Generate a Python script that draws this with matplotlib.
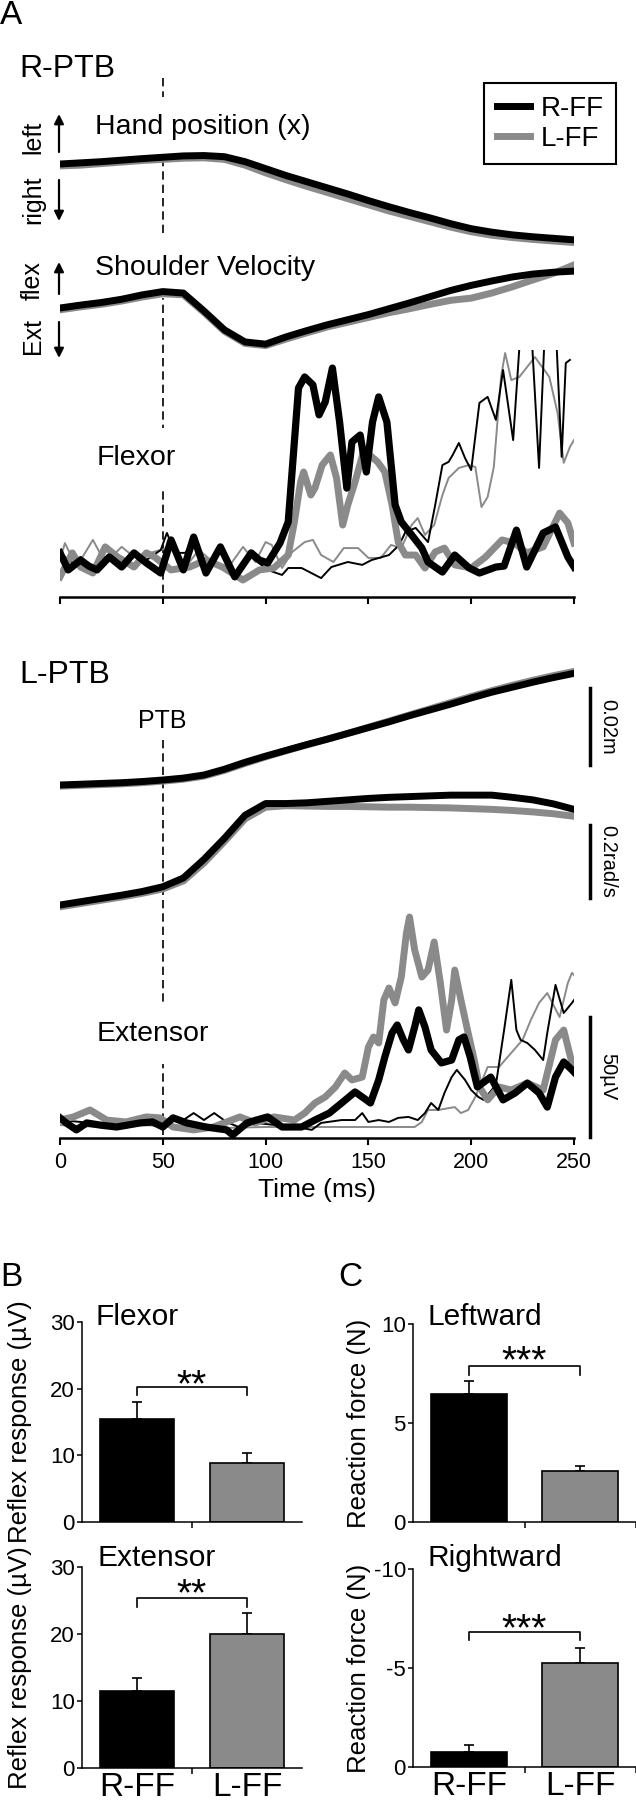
import matplotlib
matplotlib.use('Agg')
import matplotlib.pyplot as plt
from matplotlib.lines import Line2D
import numpy as np

plt.rcParams['font.family'] = ['Liberation Sans', 'DejaVu Sans']
plt.rcParams['axes.unicode_minus'] = False

W, H = 636, 1800
BLK = 'black'
GRY = '#8a8a8a'

# ---------------- data ----------------
# kinematics, sampled every 10 ms (0..250 ms)
t_kin = np.arange(0, 251, 10)

# hand position x (mm, relative, + = left), R-PTB
pos_r_rff = [0.0, 0.3, 0.6, 1.0, 1.4, 1.75, 2.1, 2.2, 1.9, 0.6, -1.2, -3.0, -4.6, -6.2, -7.8, -9.5,
             -11.1, -12.6, -14.0, -15.5, -16.8, -17.7, -18.4, -18.9, -19.3, -19.7]
pos_r_lff = [-0.5, -0.3, 0.1, 0.5, 0.9, 1.2, 1.5, 1.6, 1.2, -0.3, -2.3, -4.1, -5.8, -7.4, -9.0, -10.6,
             -12.2, -13.6, -15.0, -16.4, -17.6, -18.5, -19.1, -19.6, -20.0, -20.4]
# shoulder velocity (rad/s, relative, + = flexion), R-PTB
vel_r_rff = [0.000, 0.008, 0.015, 0.024, 0.036, 0.045, 0.041, -0.008, -0.060, -0.093, -0.099, -0.079,
             -0.062, -0.046, -0.032, -0.018, -0.002, 0.014, 0.031, 0.048, 0.062, 0.074, 0.085, 0.093,
             0.098, 0.101]
vel_r_lff = [-0.005, 0.003, 0.010, 0.019, 0.030, 0.039, 0.036, -0.012, -0.064, -0.097, -0.103, -0.085,
             -0.068, -0.052, -0.039, -0.026, -0.013, -0.002, 0.010, 0.021, 0.027, 0.041, 0.058, 0.077,
             0.095, 0.118]
# L-PTB
pos_l_rff = [0.0, 0.2, 0.4, 0.6, 0.9, 1.3, 1.8, 2.6, 4.1, 5.9, 7.5, 9.0, 10.5, 11.9, 13.4, 14.9,
             16.4, 18.0, 19.5, 21.0, 22.6, 24.1, 25.4, 26.7, 27.9, 29.0]
pos_l_lff = [-0.3, -0.1, 0.1, 0.3, 0.6, 1.0, 1.5, 2.3, 3.8, 5.6, 7.3, 8.9, 10.4, 11.9, 13.4, 15.0,
             16.6, 18.2, 19.8, 21.4, 23.0, 24.5, 25.9, 27.2, 28.4, 29.5]
vel_l_rff = [0.000, 0.009, 0.018, 0.027, 0.037, 0.050, 0.074, 0.125, 0.183, 0.246, 0.278, 0.278,
             0.280, 0.284, 0.288, 0.292, 0.295, 0.297, 0.299, 0.301, 0.301, 0.301, 0.295, 0.288,
             0.277, 0.262]
vel_l_lff = [-0.005, 0.004, 0.013, 0.022, 0.032, 0.044, 0.066, 0.115, 0.174, 0.236, 0.268, 0.272,
             0.271, 0.270, 0.270, 0.269, 0.268, 0.268, 0.267, 0.266, 0.264, 0.262, 0.259, 0.255,
             0.250, 0.243]

# flexor EMG (uV), R-PTB: thick = main, thin = second trace
flex_t_rff = [0, 4, 10, 14, 18, 24, 30, 36, 42, 49, 54, 60, 65, 71, 78, 85, 93, 97, 101, 107,
              111, 116, 119, 123, 126, 129, 132.5, 136, 139.5, 142, 146, 149, 152, 155, 159, 163,
              166, 171, 176, 179, 186, 192, 199, 204, 212, 216, 222, 227, 235, 241, 247, 250]
flex_v_rff = [11.3, 4.2, 8.3, 5.8, 4.2, 9.6, 5.4, 11.3, 7.1, 2.9, 16.7, 4.2, 17.9, 2.9, 13.8, 1.3,
              11.3, 8.3, 7.1, 15.4, 24.2, 80.0, 84.6, 81.3, 68.8, 74.2, 88.3, 65.8, 38.3, 57.5,
              60.4, 45.0, 65.8, 76.3, 65.8, 31.3, 24.2, 18.8, 13.3, 7.5, 3.3, 10.4, 5.0, 2.9, 5.4,
              5.8, 20.8, 5.4, 19.6, 22.1, 9.6, 5.4]
flex_t_lff = [0, 6, 10, 16, 22, 28, 36, 42, 46, 54, 63, 71, 79, 89, 97, 104, 111, 114, 117, 118.5,
              122, 124, 127.5, 131.5, 134.5, 137.5, 140, 143.5, 147.5, 150.5, 154.5, 158, 161.5,
              164.5, 168, 173, 177.5, 182.5, 187, 192, 200, 207, 215, 221, 227, 235, 243, 247, 250]
flex_v_lff = [1.3, 11.3, 5.4, 2.9, 13.8, 9.6, 5.4, 11.3, 9.6, 4.2, 5.4, 8.3, 5.4, 0.0, 4.2, 5.0,
              10.4, 24.2, 40.8, 45.0, 35.4, 38.3, 47.9, 52.1, 42.5, 22.9, 31.3, 40.8, 53.3, 52.1,
              49.2, 45.0, 31.3, 15.8, 10.4, 10.4, 5.0, 11.7, 13.3, 6.3, 5.0, 9.6, 16.7, 15.4, 11.3,
              13.8, 27.9, 23.8, 15.4]
flex_t_rff_thin = [0, 6, 10, 16, 22, 30, 36, 42, 49, 52, 56, 61, 65, 71, 77, 85, 93, 101, 108, 111,
                   117.5, 127, 132, 140, 147, 151.5, 160, 165, 168, 173, 179, 182.5, 186, 189, 191,
                   194, 197, 200, 204, 208, 212, 215.5, 220.4, 224.3, 229, 233, 236, 241, 244, 246, 248]
flex_v_rff_thin = [11.3, 7.1, 9.6, 5.4, 9.6, 7.1, 11.3, 8.3, 12.5, 19.6, 11.3, 11.3, 16.7, 4.2, 13.8,
                   2.9, 9.6, 4.2, 2.1, 5.0, 5.0, 0.8, 5.4, 7.5, 6.3, 8.3, 10.4, 14.6, 20.0, 21.7,
                   15.8, 31.3, 47.9, 49.2, 52.1, 57.1, 50.8, 45.8, 73.8, 76.3, 66.7, 87.5, 58.3,
                   108, 108, 46.7, 108, 108, 51.3, 90.4, 91.7]
flex_t_lff_thin = [0, 2.4, 8, 16, 22, 30, 36, 44, 54, 60, 67.5, 75, 82, 89, 95, 100, 103, 108, 113,
                   119, 123, 127, 133, 138, 145, 150, 156, 161, 166, 171, 174, 177.5, 182, 186, 189,
                   194, 199, 202, 205, 208, 211, 214.5, 216.5, 219.5, 223.4, 231, 238, 242, 245, 248, 250]
flex_v_lff_thin = [8.3, 15.4, 5.4, 16.7, 7.1, 13.8, 9.6, 11.3, 13.8, 4.2, 12.5, 7.1, 5.4, 13.8, 7.5,
                   15.8, 14.6, 5.0, 11.7, 15.8, 16.7, 10.4, 7.5, 13.3, 13.3, 9.2, 9.2, 14.6, 13.3,
                   22.9, 25.8, 18.8, 22.9, 35.4, 42.5, 46.7, 47.9, 47.1, 30.4, 34.6, 47.1, 84.6,
                   94.6, 83.3, 84.6, 92.9, 84.6, 69.6, 48.8, 55.4, 58.3]

# extensor EMG (uV), L-PTB
ext_t_lff = [0, 6.5, 14.6, 22.7, 32, 42, 48.6, 55, 65, 74.6, 87.5, 95, 104, 114, 119, 124, 129, 134,
             138.5, 142, 147, 150, 152.5, 155, 157.5, 160, 163, 166, 168.5, 170, 172.5, 176, 179,
             182, 185, 188, 190.5, 192, 195, 198.5, 201.5, 204, 208, 213.5, 219.4, 227.3, 235, 241,
             245, 249, 250]
ext_v_lff = [5.4, 6.7, 9.6, 5.4, 4.6, 6.7, 6.3, 2.5, 1.3, 2.5, 6.7, 4.2, 6.7, 5.4, 8.3, 12.5, 15.0,
             19.2, 25.0, 22.1, 23.3, 35.8, 40.0, 37.5, 55.4, 60.4, 54.2, 65.0, 83.3, 90.0, 76.3,
             65.0, 67.9, 79.6, 62.5, 42.9, 55.4, 67.9, 55.4, 41.7, 30.4, 19.2, 13.8, 19.2, 17.9,
             20.8, 17.9, 38.8, 42.9, 29.2, 27.5]
ext_t_rff = [0, 3, 8, 13, 19.5, 27.5, 39, 45, 50, 55, 61.6, 71, 81, 84, 91, 95.6, 101, 108, 117.5,
             124, 131, 137, 143.5, 147, 151, 155, 158, 161.5, 164, 167, 169.5, 172.5, 174.5, 177.5,
             180.5, 185.5, 190.5, 194, 196.5, 199.5, 203, 209.5, 215.5, 221.4, 227.3, 233, 237, 241,
             245, 249, 250]
ext_v_rff = [6.3, 4.2, 1.3, 4.2, 3.3, 2.5, 4.2, 4.6, 2.5, 6.3, 4.2, 2.5, 1.3, -0.8, 4.2, 5.4, 6.7,
             2.5, 2.5, 5.4, 8.3, 12.5, 17.1, 15.0, 12.5, 22.1, 31.7, 41.7, 45.0, 38.8, 34.6, 44.2,
             51.3, 44.2, 34.6, 29.2, 30.4, 38.8, 40.0, 31.7, 19.2, 23.3, 13.8, 16.7, 20.8, 16.7,
             10.8, 23.3, 29.6, 26.3, 25.4]
ext_t_rff_thin = [0, 10, 20, 30, 40, 50, 55, 60, 65, 70, 75, 81, 88, 95, 105, 115, 122.5, 127, 137,
                  143.5, 147, 150, 155, 160, 164.5, 169.5, 174, 177.5, 180.5, 184, 187, 190.5, 193,
                  197, 200, 203.5, 206, 212, 216, 219.5, 222, 224, 227.3, 231, 235, 237, 241, 245,
                  249, 250]
ext_v_rff_thin = [5.4, 4.6, 3.3, 4.2, 4.6, 3.3, 6.3, 5.4, 8.3, 5.4, 8.3, 4.6, 2.1, 4.2, 3.3, 2.5,
                  1.3, 4.2, 5.4, 5.4, 8.3, 4.6, 5.4, 4.6, 6.3, 6.7, 5.4, 8.3, 12.5, 9.6, 16.7, 23.3,
                  26.3, 22.1, 17.9, 15.0, 13.8, 20.0, 42.9, 63.8, 42.9, 38.8, 37.5, 34.6, 30.4,
                  41.7, 61.7, 50.0, 54.2, 55.4]
ext_t_lff_thin = [0, 20, 40, 60, 80, 100, 127, 147, 160, 172.5, 176, 179, 184, 192, 195, 198.5, 202,
                  208, 213.5, 219.4, 225, 229, 233, 237, 243, 247, 249, 250]
ext_v_lff_thin = [3.3, 2.5, 3.3, 2.5, 2.1, 2.5, 2.5, 2.5, 2.5, 2.5, 4.6, 9.6, 9.6, 10.8, 8.3, 9.6,
                  15.0, 27.5, 27.5, 33.3, 38.8, 47.1, 54.2, 58.3, 48.3, 62.5, 66.7, 65.8]

# bar charts (mean, upward SE)
groups = ['R-FF', 'L-FF']
flex_mean = [15.4, 8.85]
flex_err = [2.6, 1.5]
ext_mean = [11.5, 20.0]
ext_err = [1.9, 3.1]
left_mean = [6.46, 2.57]
left_err = [0.64, 0.26]
right_mean = [-0.76, -5.25]
right_err = [0.34, 0.75]

# ---------------- figure ----------------
fig = plt.figure(figsize=(W / 100, H / 100), dpi=100)


def ax_px(left, top, right, bottom):
    return fig.add_axes([left / W, 1 - bottom / H, (right - left) / W, (bottom - top) / H])


def trace_ax(top, bottom, zero, k):
    # k = pixels per data unit, zero = pixel row of value 0
    ax = ax_px(60, top, 574, bottom)
    ax.set_xlim(0, 250)
    ax.set_ylim((zero - bottom) / k, (zero - top) / k)
    ax.patch.set_alpha(0)
    for s in ax.spines.values():
        s.set_visible(False)
    ax.set_xticks([])
    ax.set_yticks([])
    return ax


# dashed PTB line (time x pixel rows)
ax_dash = ax_px(60, 0, 574, H)
ax_dash.set_xlim(0, 250)
ax_dash.set_ylim(H, 0)
ax_dash.axis('off')
ax_dash.vlines(50, 78, 597, colors='k', lw=1.2, linestyles=(0, (5, 3)))
ax_dash.vlines(50, 740, 1138, colors='k', lw=1.2, linestyles=(0, (5, 3)))

# text canvas
ax_txt = fig.add_axes([0, 0, 1, 1])
ax_txt.set_xlim(0, W)
ax_txt.set_ylim(H, 0)
ax_txt.axis('off')
ax_txt.patch.set_alpha(0)

wb = dict(boxstyle='square,pad=0.6', fc='white', ec='none')
ax_txt.text(0, 0, 'A', fontsize=24, ha='left', va='top')
ax_txt.text(19, 77, 'R-PTB', fontsize=23, va='baseline')
ax_txt.text(95, 134, 'Hand position (x)', fontsize=20.5, va='baseline', bbox=wb)
ax_txt.text(95, 275, 'Shoulder Velocity', fontsize=20.5, va='baseline', bbox=wb)
ax_txt.text(97, 465, 'Flexor', fontsize=20.5, va='baseline', bbox=wb)
ax_txt.text(19, 683, 'L-PTB', fontsize=23, va='baseline')
ax_txt.text(162, 728, 'PTB', fontsize=18, ha='center', va='baseline')
ax_txt.text(97, 1041, 'Extensor', fontsize=20.5, va='baseline', bbox=wb)

for s, yc in [('left', 137), ('right', 200), ('flex', 281), ('Ext', 336)]:
    ax_txt.text(33, yc, s, fontsize=18, rotation=90, ha='center', va='center')
ap = dict(arrowstyle='-|>', color='k', lw=1.6, mutation_scale=14, shrinkA=0, shrinkB=0)
for y0, y1 in [(152, 114), (180, 221), (294, 262), (322, 358)]:
    ax_txt.annotate('', xy=(59, y1), xytext=(59, y0), arrowprops=ap)

ax_txt.text(0, 1262, 'B', fontsize=24, ha='left', va='top')
ax_txt.text(338, 1262, 'C', fontsize=24, ha='left', va='top')
ax_txt.text(95, 1325, 'Flexor', fontsize=21.5, va='baseline')
ax_txt.text(97, 1566, 'Extensor', fontsize=21.5, va='baseline')
ax_txt.text(428, 1325, 'Leftward', fontsize=21.5, va='baseline')
ax_txt.text(428, 1566, 'Rightward', fontsize=21.5, va='baseline')

# ----- R-PTB traces -----
ax = trace_ax(140, 250, 164, 3.85)
ax.plot(t_kin, pos_r_lff, color=GRY, lw=5)
ax.plot(t_kin, pos_r_rff, color=BLK, lw=5)

ax = trace_ax(255, 360, 308, 365)
ax.plot(t_kin, vel_r_lff, color=GRY, lw=5)
ax.plot(t_kin, vel_r_rff, color=BLK, lw=5)

ax = trace_ax(350, 597, 580, 2.4)
ax.plot(flex_t_lff_thin, flex_v_lff_thin, color=GRY, lw=1.4)
ax.plot(flex_t_rff_thin, flex_v_rff_thin, color=BLK, lw=1.4)
ax.plot(flex_t_lff, flex_v_lff, color=GRY, lw=5)
ax.plot(flex_t_rff, flex_v_rff, color=BLK, lw=5.2)
ax.spines['bottom'].set_visible(True)
ax.spines['bottom'].set_linewidth(1.8)
ax.set_xticks(np.arange(0, 251, 50))
ax.tick_params(axis='x', direction='out', length=5, width=1.5, labelbottom=False)

# ----- L-PTB traces -----
ax = trace_ax(660, 800, 785, 3.85)
ax.plot(t_kin, pos_l_lff, color=GRY, lw=5)
ax.plot(t_kin, pos_l_rff, color=BLK, lw=5)
ax.plot([258, 258], [5.2, 25.2], color='k', lw=2.5, clip_on=False)
ax.text(266.5, 15.2, '0.02m', rotation=-90, fontsize=14.5, ha='center', va='center', clip_on=False)

ax = trace_ax(780, 920, 905, 365)
ax.plot(t_kin, vel_l_lff, color=GRY, lw=5)
ax.plot(t_kin, vel_l_rff, color=BLK, lw=5)
ax.plot([258, 258], [0.019, 0.219], color='k', lw=2.5, clip_on=False)
ax.text(266.5, 0.119, '0.2rad/s', rotation=-90, fontsize=14.5, ha='center', va='center', clip_on=False)

ax = trace_ax(900, 1138, 1133, 2.4)
ax.plot(ext_t_lff_thin, ext_v_lff_thin, color=GRY, lw=1.4)
ax.plot(ext_t_rff_thin, ext_v_rff_thin, color=BLK, lw=1.4)
ax.plot(ext_t_lff, ext_v_lff, color=GRY, lw=5)
ax.plot(ext_t_rff, ext_v_rff, color=BLK, lw=5.2)
ax.plot([258, 258], [-1.7, 48.3], color='k', lw=2.5, clip_on=False)
ax.text(266.5, 23.3, '50µV', rotation=-90, fontsize=14.5, ha='center', va='center', clip_on=False)
ax.spines['bottom'].set_visible(True)
ax.spines['bottom'].set_linewidth(1.8)
ax.set_xticks(np.arange(0, 251, 50))
ax.tick_params(axis='x', direction='out', length=5, width=1.5, labelsize=15.5, pad=5)
ax.set_xlabel('Time (ms)', fontsize=19, labelpad=4)

fig.legend(handles=[Line2D([], [], color=BLK, lw=5, label='R-FF'),
                    Line2D([], [], color=GRY, lw=5, label='L-FF')],
           loc='upper left', bbox_to_anchor=(484 / W, 1 - 83 / H), borderaxespad=0,
           frameon=True, fancybox=False, edgecolor='black', framealpha=1, fontsize=20,
           handlelength=1.2, handletextpad=0.4, borderpad=0.45, labelspacing=0.15
           ).get_frame().set_linewidth(1.5)


# ----- bar panels -----
def bar_panel(rect, means, errs, ylim, yticks, br, star, star_y, ylabel, label_x, xlabels, minor):
    ax = ax_px(*rect)
    x = np.arange(len(means))
    ax.bar(x, means, width=0.68, color=[BLK, GRY], edgecolor='k', linewidth=1.2, zorder=2)
    if ylim[1] < ylim[0]:
        yerr = [errs, [0] * len(errs)]
    else:
        yerr = [[0] * len(errs), errs]
    ax.errorbar(x, means, yerr=yerr, fmt='none', ecolor='k', elinewidth=1.2, capsize=3.5,
                capthick=1.2, zorder=1)
    ax.plot([0, 0, 1, 1], [br[0], br[1], br[1], br[0]], color='k', lw=1.2)
    ax.text(0.5, star_y, star, fontsize=28, ha='center', va='baseline')
    ax.set_xlim(-0.5, 1.5)
    ax.set_ylim(*ylim)
    ax.set_yticks(yticks)
    ax.set_yticklabels([str(v) for v in yticks])
    ax.set_xticks(x)
    ax.set_xticks(minor, minor=True)
    if xlabels:
        ax.set_xticklabels(groups)
    else:
        ax.set_xticklabels([])
    ax.tick_params(axis='x', which='major', length=0, labelsize=24, pad=3)
    ax.tick_params(axis='x', which='minor', direction='out', length=4, width=1.1)
    ax.tick_params(axis='y', direction='out', length=3.6, width=1.1, labelsize=16, pad=1.5)
    for s in ['top', 'right']:
        ax.spines[s].set_visible(False)
    for s in ['left', 'bottom']:
        ax.spines[s].set_linewidth(1.1)
    ax.set_ylabel(ylabel, fontsize=18.5)
    ax.yaxis.set_label_coords(label_x, 0.5)
    ax.patch.set_alpha(0)
    return ax


bar_panel((82, 1322, 302, 1522), flex_mean, flex_err, (0, 30), [0, 10, 20, 30], (19.05, 20.25),
          '**', 18.9, 'Reflex response (µV)', -0.225, False, [0.5])
bar_panel((82, 1567, 302, 1768), ext_mean, ext_err, (0, 30), [0, 10, 20, 30], (24.0, 25.4),
          '**', 24.3, 'Reflex response (µV)', -0.225, True, [0.5])
bar_panel((413, 1324, 636, 1522), left_mean, left_err, (0, 10), [0, 5, 10], (7.42, 7.88),
          '***', 7.58, 'Reaction force (N)', -0.19, False, [0.5, 1.5])
bar_panel((413, 1569, 636, 1767), right_mean, right_err, (0, -10), [0, -5, -10], (-6.41, -6.82),
          '***', -6.41, 'Reaction force (N)', -0.19, True, [0.5, 1.5])

fig.savefig('out.png', dpi=100)
